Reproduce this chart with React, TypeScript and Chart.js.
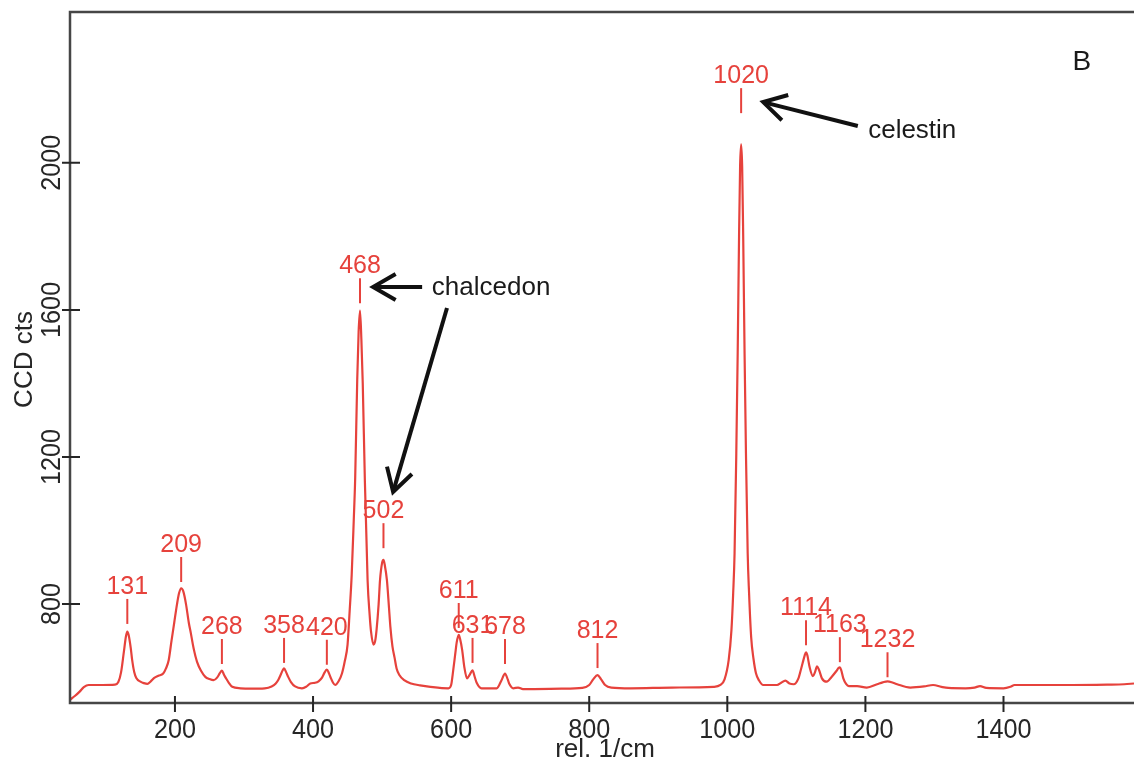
import { useEffect, useRef } from "react";
import { Chart, registerables } from "chart.js";

Chart.register(...registerables);

// Raman spectrum: Raman shift (rel. 1/cm) and detector counts (CCD cts)
const wavenumbers = [
  48, 55, 62, 68, 75, 95, 113, 118, 122, 126, 129, 131, 133, 136, 138, 141, 144, 150, 155, 160,
  165, 170, 176, 183, 187, 191, 195, 199, 203, 206, 209, 212, 216, 220, 223, 227, 232, 238, 244, 250,
  256, 261, 265, 268, 271, 274, 278, 283, 295, 310, 330, 340, 346, 350, 353, 356, 358, 361, 364, 368,
  374, 384, 390, 396, 403, 408, 413, 417, 420, 423, 426, 429, 432, 437, 442, 446, 450, 453, 456, 459,
  461, 464, 466, 468, 470, 472, 475, 479, 482, 484, 487.5, 490, 492, 495, 497, 500, 502, 504, 507, 510,
  512, 515, 518, 521, 525, 532, 542, 555, 570, 596, 600, 603, 606, 608, 611, 613, 616, 619, 623, 627,
  631, 634, 637, 644, 666, 673, 678, 682, 684, 690, 697, 704, 760, 790, 800, 806, 812, 817, 823, 832,
  860, 920, 980, 990, 996, 1002, 1006, 1008.5, 1010.5, 1013, 1015, 1017, 1018.5, 1020, 1021.5, 1023, 1025, 1027, 1029.5, 1031.5,
  1034.5, 1038, 1041.5, 1046, 1052, 1072, 1078, 1084, 1090, 1096, 1103, 1107, 1109, 1112, 1114, 1116, 1119, 1124, 1127, 1130,
  1133, 1137, 1144, 1151, 1158, 1161, 1163, 1165, 1168, 1172, 1176, 1188, 1202, 1217, 1225, 1232, 1240, 1246, 1265, 1285,
  1298, 1310, 1320, 1345, 1358, 1366, 1375, 1400, 1410, 1416, 1450, 1500, 1550, 1575, 1589,
];
const counts = [
  540, 550, 562, 574, 580, 580, 581, 588, 615, 670, 712, 725, 715, 680, 648, 615, 599, 589, 585, 583,
  590, 599, 605, 611, 625, 648, 700, 750, 800, 830, 843, 835, 800, 750, 721, 680, 643, 618, 602, 596,
  593, 600, 612, 619, 608, 598, 586, 575, 571, 570, 571, 576, 584, 595, 607, 620, 625, 615, 602, 588,
  576, 571, 575, 584, 586, 590, 600, 615, 622, 612, 598, 586, 580, 590, 612, 645, 690, 780, 880, 1030,
  1140, 1410, 1540, 1598, 1520, 1400, 1140, 865, 770, 725, 690, 700, 730, 800, 865, 912, 920, 905, 865, 790,
  738, 685, 655, 625, 607, 593, 584, 579, 575, 571, 580, 620, 665, 695, 716, 705, 675, 630, 598, 608,
  620, 603, 586, 571, 571, 593, 611, 595, 584, 571, 573, 569, 570, 572, 580, 596, 607, 596, 580, 573,
  571, 573, 575, 580, 595, 648, 730, 830, 938, 1210, 1480, 1800, 1990, 2050, 1990, 1800, 1480, 1210, 938, 830,
  711, 650, 612, 592, 580, 580, 586, 592, 584, 582, 598, 625, 639, 660, 669, 660, 630, 604, 615, 631,
  620, 598, 589, 602, 618, 626, 628, 620, 598, 583, 577, 577, 573, 582, 587, 590, 586, 582, 573, 576,
  580, 575, 572, 571, 573, 577, 572, 571, 575, 580, 580, 580, 581, 582, 584,
];

const xTickValues = [200, 400, 600, 800, 1000, 1200, 1400];
const yTickValues = [800, 1200, 1600, 2000];

// Labelled bands and the count level where each marker stroke starts
const peakPositions = [131, 209, 268, 358, 420, 468, 502, 611, 631, 678, 812, 1020, 1114, 1163, 1232];
const peakMarkerBase = [746, 860, 637, 640, 635, 1618, 952, 735, 640, 637, 626, 2135, 688, 642, 601];

// Mineral notes with arrows, in data units
const notes = [
  { text: "chalcedon", at: [572, 1640], size: 26 },
  { text: "celestin", at: [1204, 2067], size: 26 },
  { text: "B", at: [1500, 2252], size: 28 },
];
const arrows = [
  { from: [558, 1662], to: [487, 1662] },
  { from: [594, 1605], to: [516, 1105] },
  { from: [1189, 2100], to: [1052, 2165] },
];

const RED = "#e6423c";
const INK = "#262626";
const FONT = '"Liberation Sans", Arial, sans-serif';

function narrowText(ctx: CanvasRenderingContext2D, text: string, x: number, y: number, rot: number) {
  ctx.save();
  ctx.translate(x, y);
  if (rot) ctx.rotate(rot);
  ctx.scale(0.9, 1);
  ctx.textAlign = "center";
  ctx.textBaseline = "alphabetic";
  ctx.fillText(text, 0, 0);
  ctx.restore();
}

const decorations = {
  id: "decorations",
  afterDraw(chart: any) {
    const { ctx, chartArea: a } = chart;
    const xs = chart.scales.x;
    const ys = chart.scales.y;
    ctx.save();

    // frame: top border, left and bottom axes
    ctx.strokeStyle = "#464646";
    ctx.lineWidth = 2.5;
    ctx.beginPath();
    ctx.moveTo(a.right + 2, a.top);
    ctx.lineTo(a.left, a.top);
    ctx.lineTo(a.left, a.bottom);
    ctx.lineTo(a.right + 2, a.bottom);
    ctx.stroke();

    // crossing tick marks
    ctx.strokeStyle = INK;
    ctx.lineWidth = 2;
    ctx.beginPath();
    xs.ticks.forEach((t: any) => {
      const px = xs.getPixelForValue(t.value);
      ctx.moveTo(px, a.bottom - 7);
      ctx.lineTo(px, a.bottom + 9);
    });
    ys.ticks.forEach((t: any) => {
      const py = ys.getPixelForValue(t.value);
      ctx.moveTo(a.left - 8, py);
      ctx.lineTo(a.left + 10, py);
    });
    ctx.stroke();

    // tick labels
    ctx.fillStyle = INK;
    ctx.font = `28px ${FONT}`;
    xs.ticks.forEach((t: any) => {
      narrowText(ctx, String(t.value), xs.getPixelForValue(t.value), a.bottom + 35, 0);
    });
    ys.ticks.forEach((t: any) => {
      narrowText(ctx, String(t.value), a.left - 10, ys.getPixelForValue(t.value), -Math.PI / 2);
    });

    // axis titles
    ctx.font = `26px ${FONT}`;
    ctx.textAlign = "center";
    ctx.textBaseline = "alphabetic";
    ctx.fillText("rel. 1/cm", (a.left + a.right) / 2 + 3, 757);
    ctx.save();
    ctx.translate(32, (a.top + a.bottom) / 2 + 2);
    ctx.rotate(-Math.PI / 2);
    ctx.fillText("CCD cts", 0, 0);
    ctx.restore();

    // band markers and their wavenumbers
    ctx.strokeStyle = RED;
    ctx.fillStyle = RED;
    ctx.lineWidth = 2;
    ctx.font = `25px ${FONT}`;
    ctx.textAlign = "center";
    peakPositions.forEach((p, i) => {
      const px = xs.getPixelForValue(p);
      const py = ys.getPixelForValue(peakMarkerBase[i]);
      ctx.beginPath();
      ctx.moveTo(px, py);
      ctx.lineTo(px, py - 25);
      ctx.stroke();
      ctx.fillText(String(p), px, py - 30);
    });

    // arrows with open heads
    ctx.strokeStyle = "#111111";
    ctx.lineWidth = 4;
    ctx.lineJoin = "miter";
    arrows.forEach(({ from, to }) => {
      const x0 = xs.getPixelForValue(from[0]);
      const y0 = ys.getPixelForValue(from[1]);
      const x1 = xs.getPixelForValue(to[0]);
      const y1 = ys.getPixelForValue(to[1]);
      const ang = Math.atan2(y0 - y1, x0 - x1);
      const len = 26;
      const spread = (30 * Math.PI) / 180;
      ctx.beginPath();
      ctx.moveTo(x0, y0);
      ctx.lineTo(x1, y1);
      ctx.stroke();
      ctx.beginPath();
      ctx.moveTo(x1 + len * Math.cos(ang - spread), y1 + len * Math.sin(ang - spread));
      ctx.lineTo(x1, y1);
      ctx.lineTo(x1 + len * Math.cos(ang + spread), y1 + len * Math.sin(ang + spread));
      ctx.stroke();
    });

    // notes
    ctx.fillStyle = "#1a1a1a";
    ctx.textAlign = "left";
    notes.forEach((n) => {
      ctx.font = `${n.size}px ${FONT}`;
      ctx.fillText(n.text, xs.getPixelForValue(n.at[0]), ys.getPixelForValue(n.at[1]));
    });

    ctx.restore();
  },
};

export default function App() {
  const canvasRef = useRef<HTMLCanvasElement | null>(null);

  useEffect(() => {
    const canvas = canvasRef.current;
    if (!canvas) return;
    const chart = new Chart(canvas, {
      type: "line",
      data: {
        datasets: [
          {
            data: wavenumbers.map((w, i) => ({ x: w, y: counts[i] })),
            borderColor: RED,
            borderWidth: 2.2,
            pointRadius: 0,
            fill: false,
            cubicInterpolationMode: "monotone",
          },
        ],
      },
      options: {
        animation: false,
        responsive: false,
        devicePixelRatio: 1,
        layout: { padding: { left: 70, top: 12, right: 0, bottom: 62 } },
        plugins: { legend: { display: false }, tooltip: { enabled: false } },
        scales: {
          x: {
            type: "linear",
            min: 48,
            max: 1589,
            display: false,
            afterBuildTicks: (s: any) => {
              s.ticks = xTickValues.map((v) => ({ value: v }));
            },
          },
          y: {
            type: "linear",
            min: 531,
            max: 2410,
            display: false,
            afterBuildTicks: (s: any) => {
              s.ticks = yTickValues.map((v) => ({ value: v }));
            },
          },
        },
      },
      plugins: [decorations],
    } as any);
    return () => chart.destroy();
  }, []);

  return (
    <div style={{ position: "absolute", left: 0, top: 0, width: 1134, height: 765, background: "#fff" }}>
      <canvas ref={canvasRef} width={1134} height={765} style={{ display: "block" }} />
    </div>
  );
}
